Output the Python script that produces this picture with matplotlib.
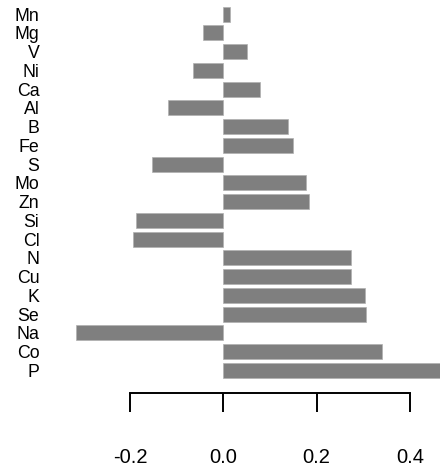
import matplotlib.pyplot as plt

elements = ["Mn", "Mg", "V", "Ni", "Ca", "Al", "B", "Fe", "S", "Mo",
            "Zn", "Si", "Cl", "N", "Cu", "K", "Se", "Na", "Co", "P"]
values = [0.015, -0.044, 0.051, -0.064, 0.079, -0.118, 0.139, 0.149, -0.153, 0.177,
          0.184, -0.188, -0.194, 0.274, 0.274, 0.304, 0.305, -0.316, 0.339, 0.48]
ticks = [-0.2, 0.0, 0.2, 0.4]

plt.rcParams['font.family'] = ['Liberation Sans', 'DejaVu Sans']

fig = plt.figure(figsize=(4.4, 4.69), dpi=100)
# axes placed in pixel terms: left 45px, bottom spine at 393px from top
ax = fig.add_axes([45 / 440, 1 - 393.3 / 469, 395 / 440, 393.3 / 469])

pos = list(range(len(elements)))
ax.barh(pos, values, height=0.8, color="#7f7f7f", edgecolor="#b0b0b0", linewidth=0.5)

ax.set_ylim(20.23, -0.758)
ax.set_xlim(-0.382, 0.4643)

ax.set_yticks(pos)
ax.set_yticklabels(elements, fontsize=12.8)
ax.tick_params(axis="y", length=0, pad=4)

ax.set_xticks(ticks)
ax.set_xticklabels(["-0.2", "0.0", "0.2", "0.4"], fontsize=14.5)
ax.tick_params(axis="x", length=13.7, width=1.4, pad=25.5, direction="out")

for s in ["top", "right", "left"]:
    ax.spines[s].set_visible(False)
ax.spines["bottom"].set_bounds(-0.2, 0.4)
ax.spines["bottom"].set_linewidth(1.4)

fig.savefig("out.png", dpi=100)
